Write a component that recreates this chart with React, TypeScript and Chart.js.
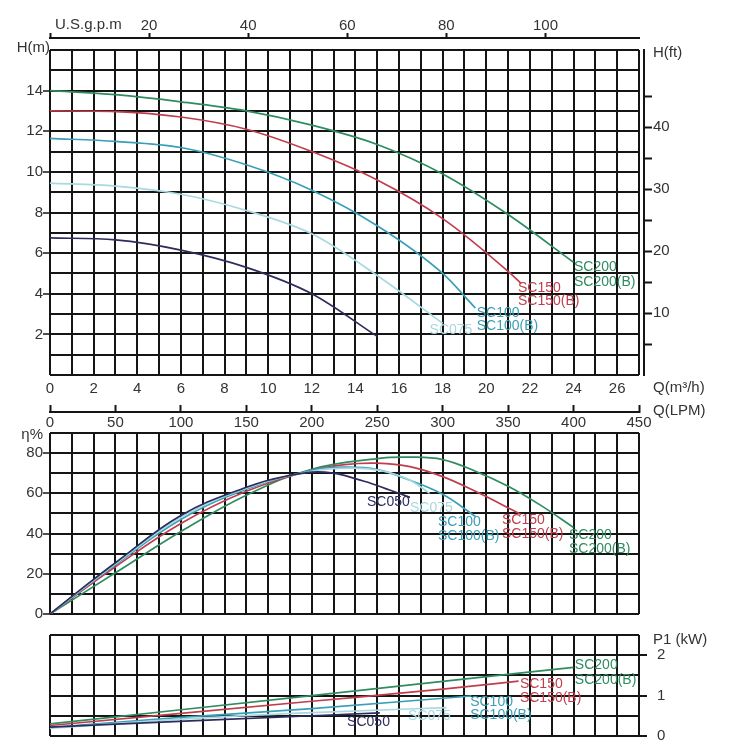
import React, { useEffect, useRef } from "react";
import { Chart, registerables } from "chart.js";

Chart.register(...registerables);

const FONT = '"Liberation Sans", Arial, Helvetica, sans-serif';
const GRID = "#151515";
const TEXT = "#333333";
const CLEAR = "rgba(0,0,0,0)";

// ---- axis ranges ----
const LPM_MAX = 450;
const M3H_MAX = 27;
const GPM_MAX = LPM_MAX / 3.785411784;
const HEAD_MAX = 16;
const FT_MAX = HEAD_MAX * 3.28084;
const ETA_MAX = 90;
const POWER_MAX = 2.5;

// ---- models ----
const models = ["SC050", "SC075", "SC100", "SC150", "SC200"];
const modelColors = ["#2d2c5e", "#a8d9e0", "#3a9fb6", "#c03e4c", "#2f8c60"];

// ---- Q-H curves (Q in L/min, H in m) ----
const headFlow_SC050 = [0, 50, 100, 150, 200, 250];
const head_SC050 = [6.75, 6.65, 6.15, 5.3, 4.0, 1.9];
const headFlow_SC075 = [0, 50, 100, 150, 200, 250, 300];
const head_SC075 = [9.45, 9.3, 8.9, 8.1, 6.95, 4.9, 2.55];
const headFlow_SC100 = [0, 50, 100, 150, 200, 250, 300, 325];
const head_SC100 = [11.65, 11.5, 11.2, 10.35, 9.1, 7.35, 5.0, 3.3];
const headFlow_SC150 = [0, 50, 100, 150, 200, 250, 300, 350, 360];
const head_SC150 = [13.0, 12.97, 12.7, 12.1, 11.0, 9.6, 7.7, 5.1, 4.5];
const headFlow_SC200 = [0, 50, 100, 150, 200, 250, 300, 350, 400];
const head_SC200 = [14.0, 13.8, 13.45, 13.0, 12.3, 11.35, 9.9, 7.9, 5.55];

// ---- efficiency curves (Q in L/min, eta in %) ----
const effFlow_SC050 = [0, 25, 50, 100, 150, 180, 210, 240, 260, 275];
const eff_SC050 = [0, 13, 25.5, 49, 63, 68.5, 70.5, 66, 61.5, 58];
const effFlow_SC075 = [0, 50, 100, 150, 200, 230, 255, 275, 290];
const eff_SC075 = [0, 25, 48, 62.5, 71, 72.5, 71, 66.5, 60];
const effFlow_SC100 = [0, 50, 100, 150, 200, 225, 250, 275, 300, 325];
const eff_SC100 = [0, 24.5, 47, 62, 71.5, 73, 71.8, 66.5, 59.5, 48.5];
const effFlow_SC150 = [0, 50, 100, 150, 200, 225, 250, 275, 300, 325, 345, 360];
const eff_SC150 = [0, 23.5, 45, 61, 71.5, 74.3, 75, 73.3, 68.3, 61, 54.5, 49.5];
const effFlow_SC200 = [0, 50, 100, 150, 200, 250, 275, 300, 325, 350, 375, 400];
const eff_SC200 = [0, 20.5, 41, 59, 72, 77.3, 78, 76.8, 71, 63.5, 54, 43];

// ---- power curves (Q in L/min, P1 in kW) ----
const powFlow_SC050 = [0, 125, 252];
const pow_SC050 = [0.22, 0.4, 0.57];
const powFlow_SC075 = [0, 100, 200, 303];
const pow_SC075 = [0.19, 0.42, 0.58, 0.7];
const powFlow_SC100 = [0, 100, 200, 322];
const pow_SC100 = [0.21, 0.46, 0.68, 0.99];
const powFlow_SC150 = [0, 100, 200, 300, 358];
const pow_SC150 = [0.26, 0.56, 0.86, 1.16, 1.36];
const powFlow_SC200 = [0, 100, 200, 300, 400];
const pow_SC200 = [0.3, 0.65, 1.0, 1.35, 1.7];

// ---- curve captions (model index, anchor in data units) ----
type Caption = { text: string; model: number; q: number; v: number };
const headCaptions: Caption[] = [
  { text: "SC075", model: 1, q: 290, v: 2.2 },
  { text: "SC100", model: 2, q: 326, v: 3.05 },
  { text: "SC100(B)", model: 2, q: 326, v: 2.42 },
  { text: "SC150", model: 3, q: 357.5, v: 4.29 },
  { text: "SC150(B)", model: 3, q: 357.5, v: 3.64 },
  { text: "SC200", model: 4, q: 400.3, v: 5.32 },
  { text: "SC200(B)", model: 4, q: 400.3, v: 4.58 },
];
const effCaptions: Caption[] = [
  { text: "SC050", model: 0, q: 242.2, v: 55.6 },
  { text: "SC075", model: 1, q: 275, v: 52.6 },
  { text: "SC100", model: 2, q: 296.4, v: 45.7 },
  { text: "SC100(B)", model: 2, q: 296.4, v: 38.7 },
  { text: "SC150", model: 3, q: 345.3, v: 46.7 },
  { text: "SC150(B)", model: 3, q: 345.3, v: 39.7 },
  { text: "SC200", model: 4, q: 396.5, v: 39.2 },
  { text: "SC200(B)", model: 4, q: 396.5, v: 32.3 },
];
const powCaptions: Caption[] = [
  { text: "SC050", model: 0, q: 227, v: 0.34 },
  { text: "SC075", model: 1, q: 273.5, v: 0.49 },
  { text: "SC100", model: 2, q: 321, v: 0.84 },
  { text: "SC100(B)", model: 2, q: 321, v: 0.52 },
  { text: "SC150", model: 3, q: 359, v: 1.28 },
  { text: "SC150(B)", model: 3, q: 359, v: 0.94 },
  { text: "SC200", model: 4, q: 401, v: 1.75 },
  { text: "SC200(B)", model: 4, q: 401, v: 1.38 },
];

const headFlows = [headFlow_SC050, headFlow_SC075, headFlow_SC100, headFlow_SC150, headFlow_SC200];
const heads = [head_SC050, head_SC075, head_SC100, head_SC150, head_SC200];
const effFlows = [effFlow_SC050, effFlow_SC075, effFlow_SC100, effFlow_SC150, effFlow_SC200];
const effs = [eff_SC050, eff_SC075, eff_SC100, eff_SC150, eff_SC200];
const powFlows = [powFlow_SC050, powFlow_SC075, powFlow_SC100, powFlow_SC150, powFlow_SC200];
const pows = [pow_SC050, pow_SC075, pow_SC100, pow_SC150, pow_SC200];

Chart.defaults.font.family = FONT;

function series(flows: number[][], values: number[][], yAxisID: string, monotone: boolean) {
  return models.map((m, i) => ({
    label: m,
    data: flows[i].map((q, k) => ({ x: q, y: values[i][k] })),
    borderColor: modelColors[i],
    backgroundColor: modelColors[i],
    borderWidth: 1.7,
    pointRadius: 0,
    fill: false,
    tension: 0.4,
    cubicInterpolationMode: monotone ? "monotone" : "default",
    xAxisID: "xq",
    yAxisID,
  }));
}

function captionPlugin(captions: Caption[], yId: string) {
  return {
    id: "captions",
    afterDatasetsDraw(chart: any) {
      const xs = chart.scales.xq;
      const ys = chart.scales[yId];
      const ctx = chart.ctx;
      ctx.save();
      ctx.font = `14px ${FONT}`;
      ctx.textAlign = "left";
      ctx.textBaseline = "middle";
      for (const c of captions) {
        ctx.fillStyle = modelColors[c.model];
        ctx.fillText(c.text, xs.getPixelForValue(c.q), ys.getPixelForValue(c.v));
      }
      ctx.restore();
    },
  };
}

type UnitText = { text: string; x: number; y: number; align: CanvasTextAlign };
function unitPlugin(make: (a: { left: number; right: number; top: number; bottom: number }) => UnitText[]) {
  return {
    id: "units",
    afterDraw(chart: any) {
      const ctx = chart.ctx;
      ctx.save();
      ctx.font = `15px ${FONT}`;
      ctx.fillStyle = TEXT;
      ctx.textBaseline = "middle";
      for (const t of make(chart.chartArea)) {
        ctx.textAlign = t.align;
        ctx.fillText(t.text, t.x, t.y);
      }
      ctx.restore();
    },
  };
}

const tickFont = { family: FONT, size: 15 };

function gridAxisM3h(showLabels: boolean, height: number) {
  return {
    type: "linear",
    position: "bottom",
    weight: 0,
    min: 0,
    max: M3H_MAX,
    ticks: {
      display: showLabels,
      stepSize: 1,
      autoSkip: false,
      maxRotation: 0,
      padding: 5,
      font: tickFont,
      color: TEXT,
      callback: (v: number) => (v % 2 === 0 ? String(v) : ""),
    },
    grid: { color: GRID, lineWidth: 2, drawTicks: false },
    border: { display: false },
    afterFit: (s: any) => {
      s.height = height;
    },
  };
}

function hiddenFlowAxis() {
  return { type: "linear", display: false, min: 0, max: LPM_MAX };
}

function dummyAxis(position: string, size: number) {
  return {
    type: "linear",
    position,
    weight: 0,
    min: 0,
    max: 1,
    ticks: { display: false },
    grid: { display: false },
    border: { display: false },
    afterFit: (s: any) => {
      if (position === "top" || position === "bottom") s.height = size;
      else s.width = size;
    },
  };
}

function headConfig(): any {
  return {
    type: "line",
    data: { datasets: series(headFlows, heads, "yH", true) },
    options: {
      responsive: false,
      animation: false,
      events: [],
      layout: { padding: { left: 0, right: 36, top: 8, bottom: 323 } },
      plugins: { legend: { display: false }, tooltip: { enabled: false } },
      scales: {
        xg: gridAxisM3h(true, 37),
        xq: {
          type: "linear",
          position: "bottom",
          weight: 1,
          min: 0,
          max: LPM_MAX,
          ticks: { stepSize: 50, autoSkip: false, maxRotation: 0, padding: 9, font: tickFont, color: TEXT },
          grid: { drawOnChartArea: false, drawTicks: true, tickLength: -7, tickWidth: 2, tickColor: GRID },
          border: { display: true, color: GRID, width: 2 },
          afterFit: (s: any) => {
            s.height = 20;
          },
        },
        xTopPad: dummyAxis("top", 12),
        xGpm: {
          type: "linear",
          position: "top",
          weight: 1,
          min: 0,
          max: GPM_MAX,
          ticks: {
            stepSize: 20,
            includeBounds: false,
            autoSkip: false,
            maxRotation: 0,
            padding: -2,
            font: tickFont,
            color: TEXT,
            callback: (v: number) => (v > 0 && v % 20 === 0 ? String(v) : ""),
          },
          grid: {
            drawOnChartArea: false,
            tickLength: 5,
            tickWidth: 2,
            tickColor: (c: any) => (c.tick && c.tick.value % 20 === 0 ? GRID : CLEAR),
          },
          border: { display: true, color: GRID, width: 2 },
          afterFit: (s: any) => {
            s.height = 30;
          },
        },
        yH: {
          type: "linear",
          position: "left",
          min: 0,
          max: HEAD_MAX,
          ticks: {
            stepSize: 1,
            autoSkip: false,
            padding: 0,
            font: tickFont,
            color: TEXT,
            callback: (v: number) => (v % 2 === 0 && v > 0 && v < HEAD_MAX ? String(v) : ""),
          },
          grid: {
            color: GRID,
            lineWidth: 2,
            tickLength: 7,
            tickWidth: 1.5,
            tickColor: (c: any) =>
              c.tick && c.tick.value % 2 === 0 && c.tick.value > 0 && c.tick.value < HEAD_MAX ? GRID : CLEAR,
          },
          border: { display: false },
          afterFit: (s: any) => {
            s.width = 50;
          },
        },
        yPad: dummyAxis("right", 5),
        yFt: {
          type: "linear",
          position: "right",
          weight: 1,
          min: 0,
          max: FT_MAX,
          ticks: {
            stepSize: 5,
            includeBounds: false,
            autoSkip: false,
            padding: 1,
            font: tickFont,
            color: TEXT,
            callback: (v: number) => (v % 10 === 0 && v > 0 && v < 50 ? String(v) : ""),
          },
          grid: {
            drawOnChartArea: false,
            tickLength: 8,
            tickWidth: 2,
            tickColor: (c: any) => (c.tick && c.tick.value > 0 && c.tick.value < 50 ? GRID : CLEAR),
          },
          border: { display: true, color: GRID, width: 2 },
          afterFit: (s: any) => {
            s.width = 60;
          },
        },
      },
    },
    plugins: [
      captionPlugin(headCaptions, "yH"),
      unitPlugin((a) => [
        { text: "U.S.g.p.m", x: a.left + 5, y: a.top - 25, align: "left" },
        { text: "H(m)", x: a.left, y: a.top - 2, align: "right" },
        { text: "H(ft)", x: a.right + 14, y: a.top + 3, align: "left" },
        { text: "Q(m³/h)", x: a.right + 14, y: a.bottom + 13, align: "left" },
        { text: "Q(LPM)", x: a.right + 14, y: a.bottom + 36, align: "left" },
      ]),
    ],
  };
}

function effConfig(): any {
  return {
    type: "line",
    data: { datasets: series(effFlows, effs, "yE", false) },
    options: {
      responsive: false,
      animation: false,
      events: [],
      layout: { padding: { left: 0, right: 101, top: 433, bottom: 141 } },
      plugins: { legend: { display: false }, tooltip: { enabled: false } },
      scales: {
        xg: gridAxisM3h(false, 0),
        xq: hiddenFlowAxis(),
        yE: {
          type: "linear",
          position: "left",
          min: 0,
          max: ETA_MAX,
          ticks: {
            stepSize: 10,
            autoSkip: false,
            padding: 0,
            font: tickFont,
            color: TEXT,
            callback: (v: number) => (v % 20 === 0 && v < ETA_MAX ? String(v) : ""),
          },
          grid: {
            color: GRID,
            lineWidth: 2,
            tickLength: 7,
            tickWidth: 1.5,
            tickColor: (c: any) => (c.tick && c.tick.value % 20 === 0 && c.tick.value < ETA_MAX ? GRID : CLEAR),
          },
          border: { display: false },
          afterFit: (s: any) => {
            s.width = 50;
          },
        },
      },
    },
    plugins: [
      captionPlugin(effCaptions, "yE"),
      unitPlugin((a) => [{ text: "η%", x: a.left - 7, y: a.top + 2, align: "right" }]),
    ],
  };
}

function powerConfig(): any {
  return {
    type: "line",
    data: { datasets: series(powFlows, pows, "yP", true) },
    options: {
      responsive: false,
      animation: false,
      events: [],
      layout: { padding: { left: 50, right: 0, top: 635, bottom: 18 } },
      plugins: { legend: { display: false }, tooltip: { enabled: false } },
      scales: {
        xg: gridAxisM3h(false, 0),
        xq: hiddenFlowAxis(),
        yP: {
          type: "linear",
          position: "right",
          min: 0,
          max: POWER_MAX,
          ticks: {
            stepSize: 0.5,
            autoSkip: false,
            padding: 10,
            font: tickFont,
            color: TEXT,
            callback: (v: number) => (Number.isInteger(v) ? String(v) : ""),
          },
          grid: {
            color: GRID,
            lineWidth: 2,
            tickLength: 8,
            tickWidth: 2,
            tickColor: (c: any) => (c.tick && Number.isInteger(c.tick.value) ? GRID : CLEAR),
          },
          border: { display: false },
          afterFit: (s: any) => {
            s.width = 101;
          },
        },
      },
    },
    plugins: [
      captionPlugin(powCaptions, "yP"),
      unitPlugin((a) => [{ text: "P1 (kW)", x: a.right + 14, y: a.top + 5, align: "left" }]),
    ],
  };
}

export default function App() {
  const r1 = useRef<HTMLCanvasElement>(null);
  const r2 = useRef<HTMLCanvasElement>(null);
  const r3 = useRef<HTMLCanvasElement>(null);

  useEffect(() => {
    const charts = [
      new Chart(r1.current as HTMLCanvasElement, headConfig()),
      new Chart(r2.current as HTMLCanvasElement, effConfig()),
      new Chart(r3.current as HTMLCanvasElement, powerConfig()),
    ];
    return () => charts.forEach((c) => c.destroy());
  }, []);

  const cs: React.CSSProperties = { position: "absolute", left: 0, top: 0, width: 740, height: 755 };
  return (
    <div style={{ position: "absolute", left: 0, top: 0, width: 740, height: 755, background: "#ffffff" }}>
      <canvas ref={r1} width={740} height={755} style={cs} />
      <canvas ref={r2} width={740} height={755} style={cs} />
      <canvas ref={r3} width={740} height={755} style={cs} />
    </div>
  );
}
